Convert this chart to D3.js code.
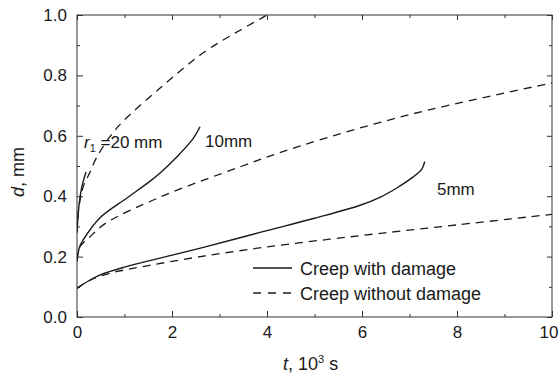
<!DOCTYPE html>
<html>
<head>
<meta charset="utf-8">
<script src="https://cdn.jsdelivr.net/npm/d3@7"></script>
<style>
  body { margin: 0; background: #fff; }
  svg { display: block; font-family: 'Liberation Sans', Arial, sans-serif; }
</style>
</head>
<body>
<div id="chart"></div>
<script>
// values: t in 10^3 s, d in mm
const with5 = [[0, 0.095], [0.25, 0.12], [0.5, 0.14], [1, 0.165], [1.75, 0.195], [2.6, 0.228], [3.85, 0.28], [5, 0.327], [5.96, 0.37], [6.4, 0.398], [6.74, 0.428], [7.07, 0.463], [7.26, 0.49], [7.32, 0.515]]
const without5 = [[0, 0.095], [0.25, 0.12], [0.7, 0.145], [1.5, 0.17], [2.6, 0.2], [4, 0.232], [6, 0.27], [8, 0.305], [10, 0.34]]
const with10 = [[0, 0.185], [0.05, 0.23], [0.13, 0.255], [0.48, 0.328], [1.05, 0.394], [1.54, 0.45], [1.75, 0.477], [2.1, 0.53], [2.44, 0.59], [2.59, 0.63]]
const without10 = [[0, 0.185], [0.05, 0.23], [0.27, 0.265], [0.6, 0.31], [1.75, 0.397], [3.43, 0.497], [4.69, 0.566], [7, 0.67], [10, 0.775]]
const with20 = [[0, 0.28], [0.02, 0.33], [0.05, 0.38], [0.1, 0.43], [0.15, 0.46], [0.19, 0.48]]
const without20 = [[0, 0.28], [0.03, 0.35], [0.08, 0.4], [0.15, 0.44], [0.23, 0.465], [0.42, 0.53], [0.84, 0.626], [1.75, 0.758], [2.65, 0.874], [3.37, 0.944], [4, 1.0], [4.5, 1.05]]

const xTicks = [0, 2, 4, 6, 8, 10]
const xMinor = [1, 3, 5, 7, 9]
const yTicks = [0, 0.2, 0.4, 0.6, 0.8, 1.0]
const yMinor = [0.1, 0.3, 0.5, 0.7, 0.9]

const width = 559
const height = 374
const m = { left: 77, right: 7, top: 15, bottom: 57 }

const svg = d3.select('#chart').append('svg')
  .attr('width', width)
  .attr('height', height)

const x = d3.scaleLinear().domain([0, 10]).range([m.left, width - m.right])
const y = d3.scaleLinear().domain([0, 1]).range([height - m.bottom, m.top])

svg.append('defs').append('clipPath').attr('id', 'plot')
  .append('rect')
  .attr('x', x(0)).attr('y', y(1))
  .attr('width', x(10) - x(0)).attr('height', y(0) - y(1))

const ink = '#1a1a1a'
const axisColor = '#333'

// frame
svg.append('rect')
  .attr('x', x(0)).attr('y', y(1))
  .attr('width', x(10) - x(0)).attr('height', y(0) - y(1))
  .attr('fill', 'none')
  .attr('stroke', axisColor)
  .attr('stroke-width', 1)

// inward ticks on all four sides
function ticks (g, axis, vals, size, labels) {
  g.call(axis.tickValues(vals).tickSizeInner(-size).tickSizeOuter(0).tickFormat(labels ? d3.format('.0f') : ''))
  g.select('.domain').remove()
  g.selectAll('.tick line').attr('stroke', axisColor)
}
const bottom = svg.append('g').attr('transform', `translate(0,${y(0)})`)
ticks(bottom, d3.axisBottom(x), xTicks, 6, true)
bottom.selectAll('.tick text').attr('font-size', 17).attr('fill', ink).attr('dy', '1.05em')
// last label sits against the right edge
bottom.selectAll('.tick text').filter(d => d === 10).attr('text-anchor', 'end').attr('x', 6)
ticks(svg.append('g').attr('transform', `translate(0,${y(0)})`), d3.axisBottom(x), xMinor, 3, false)
ticks(svg.append('g').attr('transform', `translate(0,${y(1)})`), d3.axisTop(x), xTicks, 5, false)
ticks(svg.append('g').attr('transform', `translate(0,${y(1)})`), d3.axisTop(x), xMinor, 3, false)

const left = svg.append('g').attr('transform', `translate(${x(0)},0)`)
left.call(d3.axisLeft(y).tickValues(yTicks).tickSizeInner(-6).tickSizeOuter(0).tickFormat(d3.format('.1f')))
left.select('.domain').remove()
left.selectAll('.tick line').attr('stroke', axisColor)
left.selectAll('.tick text').attr('font-size', 17).attr('fill', ink).attr('x', -10)
ticks(svg.append('g').attr('transform', `translate(${x(0)},0)`), d3.axisLeft(y), yMinor, 3, false)
ticks(svg.append('g').attr('transform', `translate(${x(10)},0)`), d3.axisRight(y), yTicks, 5, false)
ticks(svg.append('g').attr('transform', `translate(${x(10)},0)`), d3.axisRight(y), yMinor, 3, false)

// curves
const line = d3.line()
  .x(d => x(d[0]))
  .y(d => y(d[1]))
  .curve(d3.curveCatmullRom.alpha(0.5))

const curves = [
  [with5, false], [without5, true],
  [with10, false], [without10, true],
  [with20, false], [without20, true]
]
const plot = svg.append('g').attr('clip-path', 'url(#plot)')
plot.selectAll('path')
  .data(curves)
  .enter().append('path')
  .attr('d', d => line(d[0]))
  .attr('fill', 'none')
  .attr('stroke', ink)
  .attr('stroke-width', d => d[1] ? 1.3 : 1.4)
  .attr('stroke-dasharray', d => d[1] ? '8,6' : null)

// curve labels
const r1 = svg.append('text')
  .attr('x', 84).attr('y', 148)
  .attr('font-size', 17).attr('fill', ink)
r1.append('tspan').attr('font-style', 'italic').text('r')
r1.append('tspan').attr('font-size', 11).attr('dy', 4).text('1')
r1.append('tspan').attr('dy', -4).text(' =20 mm')

svg.append('text')
  .attr('x', 205).attr('y', 147)
  .attr('font-size', 17).attr('fill', ink)
  .text('10mm')

svg.append('text')
  .attr('x', 437).attr('y', 195)
  .attr('font-size', 17).attr('fill', ink)
  .text('5mm')

// legend
const legend = [['Creep with damage', false], ['Creep without damage', true]]
const lg = svg.append('g')
lg.selectAll('line')
  .data(legend)
  .enter().append('line')
  .attr('x1', 253).attr('x2', 292)
  .attr('y1', (d, i) => 268 + i * 25)
  .attr('y2', (d, i) => 268 + i * 25)
  .attr('stroke', ink)
  .attr('stroke-width', 1.3)
  .attr('stroke-dasharray', d => d[1] ? '8,7' : null)
lg.selectAll('text')
  .data(legend)
  .enter().append('text')
  .attr('x', 300)
  .attr('y', (d, i) => 275 + i * 25)
  .attr('font-size', 18)
  .attr('fill', ink)
  .text(d => d[0])

// axis titles
const xt = svg.append('text')
  .attr('x', 283).attr('y', 370)
  .attr('font-size', 18).attr('fill', ink)
xt.append('tspan').attr('font-style', 'italic').text('t')
xt.append('tspan').text(', 10')
xt.append('tspan').attr('font-size', 11).attr('dy', -7).text('3')
xt.append('tspan').attr('dy', 7).text(' s')

const yt = svg.append('text')
  .attr('transform', 'translate(24,172) rotate(-90)')
  .attr('text-anchor', 'middle')
  .attr('font-size', 18).attr('fill', ink)
yt.append('tspan').attr('font-style', 'italic').text('d')
yt.append('tspan').text(', mm')
</script>
</body>
</html>
